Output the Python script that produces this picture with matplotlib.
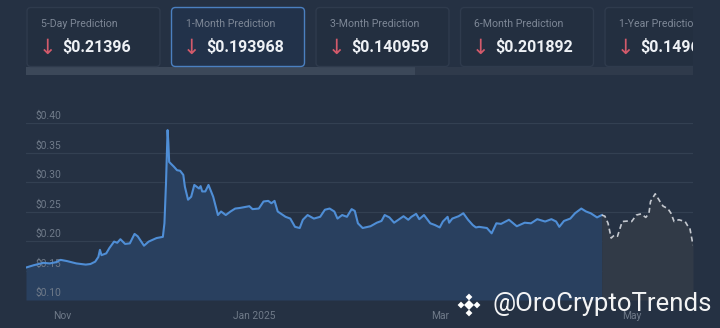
"""
Price history + forecast chart with prediction cards
"""

import pandas as pd
import matplotlib.pyplot as plt
from matplotlib.patches import FancyBboxPatch, Rectangle
from matplotlib.transforms import blended_transform_factory

# ---- data ----
card_titles = ['5-Day Prediction', '1-Month Prediction', '3-Month Prediction',
               '6-Month Prediction', '1-Year Prediction']
card_values = ['$0.21396', '$0.193968', '$0.140959', '$0.201892', '$0.149608']

hist_dates = [
    '2024-10-20 12:00', '2024-10-23', '2024-10-26', '2024-10-28', '2024-10-30',
    '2024-10-31 12:00', '2024-11-02 12:00', '2024-11-05 12:00', '2024-11-08 12:00',
    '2024-11-10', '2024-11-11 12:00', '2024-11-12 12:00', '2024-11-13',
    '2024-11-13 12:00', '2024-11-15', '2024-11-16', '2024-11-17 12:00',
    '2024-11-18 12:00', '2024-11-19 12:00', '2024-11-21', '2024-11-22 12:00',
    '2024-11-24', '2024-11-25', '2024-11-27', '2024-11-28 12:00', '2024-12-01',
    '2024-12-03', '2024-12-03 12:00', '2024-12-04', '2024-12-04 12:00',
    '2024-12-04 18:00', '2024-12-05', '2024-12-06 12:00', '2024-12-07 12:00',
    '2024-12-08 12:00', '2024-12-09 12:00', '2024-12-10', '2024-12-11',
    '2024-12-12', '2024-12-13', '2024-12-14 12:00', '2024-12-15',
    '2024-12-15 12:00', '2024-12-16 12:00', '2024-12-17 12:00', '2024-12-19',
    '2024-12-20 12:00', '2024-12-21 12:00', '2024-12-23', '2024-12-24 12:00',
    '2024-12-26', '2024-12-27 12:00', '2024-12-30 12:00', '2024-12-31 12:00',
    '2025-01-02 12:00', '2025-01-04', '2025-01-05 12:00', '2025-01-06 12:00',
    '2025-01-07 12:00', '2025-01-08 12:00', '2025-01-11', '2025-01-12 12:00',
    '2025-01-14', '2025-01-15 12:00', '2025-01-16 12:00', '2025-01-18',
    '2025-01-20', '2025-01-22', '2025-01-23 12:00', '2025-01-25',
    '2025-01-26 12:00', '2025-01-27 12:00', '2025-01-29', '2025-01-30 12:00',
    '2025-02-01', '2025-02-02', '2025-02-03', '2025-02-04 12:00', '2025-02-07',
    '2025-02-09', '2025-02-10 12:00', '2025-02-11 12:00', '2025-02-13',
    '2025-02-14 12:00', '2025-02-17 12:00', '2025-02-19', '2025-02-20',
    '2025-02-21 12:00', '2025-02-22 12:00', '2025-02-24', '2025-02-26',
    '2025-02-27 12:00', '2025-03-01', '2025-03-02', '2025-03-03 12:00',
    '2025-03-04', '2025-03-05', '2025-03-07', '2025-03-08 12:00', '2025-03-10',
    '2025-03-11 12:00', '2025-03-12 12:00', '2025-03-13 12:00', '2025-03-16',
    '2025-03-17 12:00', '2025-03-19', '2025-03-20 12:00', '2025-03-23',
    '2025-03-25 12:00', '2025-03-28', '2025-03-30', '2025-04-01',
    '2025-04-03 12:00', '2025-04-05 12:00', '2025-04-07', '2025-04-08',
    '2025-04-09 12:00', '2025-04-11 12:00', '2025-04-13', '2025-04-15',
    '2025-04-16 12:00', '2025-04-18', '2025-04-20', '2025-04-21 12:00',
]
hist_prices = [
    0.155, 0.159, 0.163, 0.162, 0.164, 0.168, 0.166, 0.162, 0.160, 0.161,
    0.165, 0.173, 0.185, 0.176, 0.179, 0.188, 0.199, 0.197, 0.203, 0.195,
    0.196, 0.212, 0.208, 0.192, 0.199, 0.205, 0.207, 0.230, 0.298, 0.388,
    0.366, 0.334, 0.326, 0.320, 0.319, 0.312, 0.292, 0.270, 0.275, 0.295,
    0.289, 0.293, 0.284, 0.284, 0.295, 0.275, 0.244, 0.250, 0.244, 0.250,
    0.255, 0.256, 0.259, 0.254, 0.255, 0.267, 0.268, 0.264, 0.268, 0.250,
    0.241, 0.238, 0.224, 0.222, 0.236, 0.244, 0.238, 0.241, 0.253, 0.255,
    0.250, 0.238, 0.244, 0.241, 0.254, 0.251, 0.230, 0.222, 0.225, 0.231,
    0.234, 0.244, 0.240, 0.231, 0.242, 0.236, 0.241, 0.246, 0.237, 0.244,
    0.230, 0.227, 0.223, 0.233, 0.241, 0.231, 0.238, 0.242, 0.247, 0.236,
    0.227, 0.223, 0.224, 0.222, 0.213, 0.230, 0.229, 0.236, 0.225, 0.231,
    0.230, 0.237, 0.233, 0.237, 0.233, 0.224, 0.234, 0.238, 0.247, 0.255,
    0.250, 0.247, 0.240, 0.244,
]

fc_dates = [
    '2025-04-21 12:00', '2025-04-22 12:00', '2025-04-23 12:00', '2025-04-24 12:00',
    '2025-04-25 12:00', '2025-04-26 12:00', '2025-04-28', '2025-04-30',
    '2025-05-01', '2025-05-02 12:00', '2025-05-04', '2025-05-05 12:00',
    '2025-05-06 12:00', '2025-05-07', '2025-05-08 12:00', '2025-05-10',
    '2025-05-11', '2025-05-12 12:00', '2025-05-13 12:00', '2025-05-14 12:00',
    '2025-05-16', '2025-05-18', '2025-05-19', '2025-05-19 12:00',
    '2025-05-20 12:00',
]
fc_prices = [
    0.244, 0.242, 0.230, 0.205, 0.210, 0.208, 0.233, 0.234, 0.233, 0.244,
    0.246, 0.240, 0.247, 0.267, 0.280, 0.267, 0.259, 0.255, 0.247, 0.233,
    0.236, 0.233, 0.224, 0.222, 0.193,
]

y_ticks = [0.10, 0.15, 0.20, 0.25, 0.30, 0.35, 0.40]
x_tick_dates = ['2024-11-01', '2025-01-01', '2025-03-01', '2025-05-01']
x_tick_labels = ['Nov', 'Jan 2025', 'Mar', 'May']

# ---- style ----
BG = '#253143'
GRID = '#334052'
LINE = '#4f8ed6'
FILL = '#29405f'
FC_FILL = '#313a47'
FC_LINE = '#c4c8cf'
MUTED = '#6f7a89'

plt.rcParams['font.family'] = ['Roboto', 'DejaVu Sans']

W, H = 720, 328
fig = plt.figure(figsize=(W / 100, H / 100), dpi=100, facecolor=BG)

# ---- prediction cards (pixel coordinates, clipped on the right) ----
top = fig.add_axes([0, 1 - 76 / H, 693 / W, 76 / H])
top.set_xlim(0, 693)
top.set_ylim(76, 0)
top.axis('off')

# scrollbar track and thumb
top.add_patch(Rectangle((26, 67), 667, 8, color='#2f3a4b', lw=0))
top.add_patch(Rectangle((26, 67), 389, 8, color='#3c4859', lw=0))

for i, (title, value) in enumerate(zip(card_titles, card_values)):
    x0 = 27 + i * 144.5
    selected = i == 1
    box = FancyBboxPatch((x0, 7.5), 133, 59, boxstyle='round,pad=0,rounding_size=4',
                         fc='#22324a' if selected else '#232f40',
                         ec='#4b80c0' if selected else '#2f3b4d', lw=1.0)
    top.add_patch(box)
    top.text(x0 + 14, 24, title, color='#7d8796', fontsize=7.6,
             va='center', ha='left', clip_on=True)
    top.text(x0 + 20, 47.5, '\u2193', color='#d35a6b', fontsize=15,
             va='center', ha='center', family=['DejaVu Sans'], clip_on=True)
    top.text(x0 + 35, 46.5, value, color='#eef1f5', fontsize=11.5,
             fontweight='bold', va='center', ha='left', clip_on=True)

# ---- main chart ----
ax = fig.add_axes([26 / W, 28 / H, 667 / W, 177 / H], facecolor=BG)

hd = pd.to_datetime(hist_dates, format='mixed')
fd = pd.to_datetime(fc_dates, format='mixed')

ax.fill_between(hd, hist_prices, 0.10, color=FILL, lw=0, zorder=1)
ax.fill_between(fd, fc_prices, 0.10, color=FC_FILL, lw=0, zorder=1)

for v in y_ticks:
    ax.axhline(v, color=GRID, lw=0.9, zorder=0.5)

trans = blended_transform_factory(ax.transAxes, ax.transData)
for v in y_ticks:
    ax.text(9 / 667, v + 0.0118, f'${v:.2f}', color=MUTED, fontsize=7.4,
            va='center', ha='left', transform=trans, zorder=2, clip_on=False)

ax.plot(hd, hist_prices, color=LINE, lw=1.5, zorder=3)
ax.plot(fd, fc_prices, color=FC_LINE, lw=1.2, ls=(0, (3, 2)), zorder=3)

ax.set_xlim(hd[0], fd[-1])
ax.set_ylim(0.10, 0.40)
ax.set_yticks([])
ax.set_xticks(pd.to_datetime(x_tick_dates))
ax.set_xticklabels(x_tick_labels, color=MUTED, fontsize=7.4)
ax.tick_params(axis='x', length=0, pad=8)
for s in ax.spines.values():
    s.set_visible(False)

# ---- watermark ----
over = fig.add_axes([0, 0, 1, 1])
over.set_xlim(0, W)
over.set_ylim(H, 0)
over.axis('off')
over.scatter([469, 461, 477, 469, 469], [305, 305, 305, 297, 313],
             marker='D', s=[26, 12, 12, 12, 12], color='white', lw=0, zorder=5)
over.text(492, 304, '@OroCryptoTrends', color='white', fontsize=18.5,
          va='center', ha='left', zorder=5, alpha=0.95)

fig.savefig('out.png', dpi=100, facecolor=BG)
